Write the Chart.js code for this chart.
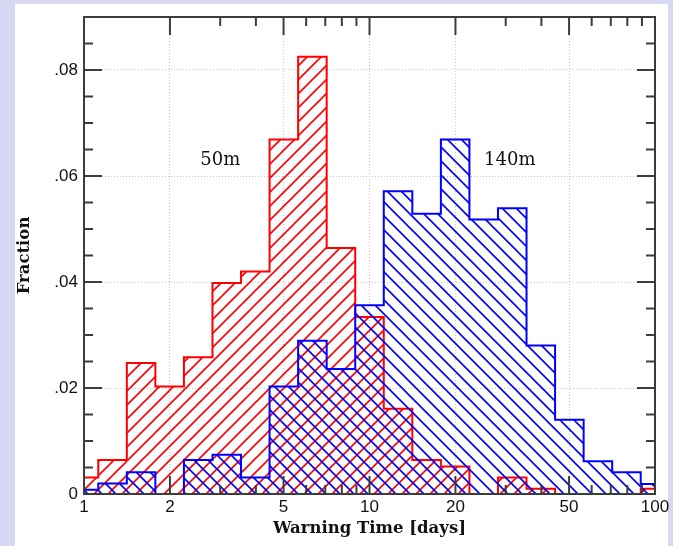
<!DOCTYPE html>
<html><head><meta charset="utf-8">
<script src="https://cdn.jsdelivr.net/npm/chart.js@4/dist/chart.umd.min.js"></script>
<style>
html,body{margin:0;padding:0;background:#d8d8f2;overflow:hidden;}
#panel{position:absolute;left:15px;top:4px;width:653px;height:542px;background:#ffffff;}
#wrap{position:absolute;left:0;top:0;width:673px;height:546px;}
</style></head><body>
<div id="panel"></div>
<div id="wrap"><canvas id="c" width="673" height="546"></canvas></div>
<script>
// Histogram bins: centres in log10(days), 0.1 dex wide
const binCentersLog10 = [0.0,0.1,0.2,0.3,0.4,0.5,0.6,0.7,0.8,0.9,1.0,1.1,1.2,1.3,1.4,1.5,1.6,1.7,1.8,1.9,2.0];
const fraction50m  = [0.0031,0.0064,0.0247,0.0203,0.0258,0.0398,0.0420,0.0669,0.0825,0.0464,0.0334,0.0161,0.0064,0.0052,0.0,0.0031,0.0010,0.0,0.0,0.0,0.0010];
const fraction140m = [0.0008,0.0020,0.0041,0.0,0.0064,0.0074,0.0031,0.0203,0.0289,0.0236,0.0356,0.0571,0.0529,0.0669,0.0518,0.0539,0.0280,0.0140,0.0062,0.0041,0.0019];
const seriesNames = ['50m','140m'];
const xTickLabels = [1,2,5,10,20,50,100];
const xMinorTicks = [3,4,6,7,8,9,30,40,60,70,80,90];
const yTickLabels = [0,0.02,0.04,0.06,0.08];
const yMinorStep = 0.005;

function stepPoints(vals){
  const pts=[];
  for(let i=0;i<binCentersLog10.length;i++){
    const lo=Math.max(0,binCentersLog10[i]-0.05);
    pts.push({x:Math.pow(10,lo), y:vals[i]});
  }
  const last=binCentersLog10.length-1;
  pts.push({x:Math.pow(10,Math.min(2,binCentersLog10[last]+0.05)), y:vals[last]});
  return pts;
}
function hatch(color, dir){
  const s=14; const c=document.createElement('canvas'); c.width=s; c.height=s;
  const g=c.getContext('2d'); g.strokeStyle=color; g.lineWidth=1.6; g.beginPath();
  if(dir>0){ g.moveTo(-s,2*s); g.lineTo(2*s,-s); g.moveTo(-s,s); g.lineTo(s,-s); g.moveTo(0,2*s); g.lineTo(2*s,0); }
  else { g.moveTo(-s,-s); g.lineTo(2*s,2*s); g.moveTo(-s,0); g.lineTo(s,2*s); g.moveTo(0,-s); g.lineTo(2*s,s); }
  g.stroke();
  return g.createPattern(c,'repeat');
}

const frameTicks = {
  id:'frameTicks',
  afterDatasetsDraw(chart){
    const {ctx, chartArea:a, scales:{x,y}} = chart;
    ctx.save();
    ctx.fillStyle='#111'; ctx.font='18px "DejaVu Serif"'; ctx.textAlign='center'; ctx.textBaseline='middle';
    ctx.fillText(seriesNames[0], x.getPixelForValue(3.0), y.getPixelForValue(0.0629));
    ctx.fillText(seriesNames[1], x.getPixelForValue(31), y.getPixelForValue(0.0629));
    ctx.strokeStyle='#3c3c3c'; ctx.lineWidth=2; ctx.lineCap='butt';
    const line=(x1,y1,x2,y2)=>{ctx.beginPath();ctx.moveTo(x1,y1);ctx.lineTo(x2,y2);ctx.stroke();};
    xTickLabels.slice(1,-1).forEach(v=>{const p=x.getPixelForValue(v); line(p,a.bottom,p,a.bottom-18); line(p,a.top,p,a.top+18);});
    xMinorTicks.forEach(v=>{const p=x.getPixelForValue(v); line(p,a.bottom,p,a.bottom-9); line(p,a.top,p,a.top+9);});
    for(let k=1;k*yMinorStep<0.0899;k++){
      const v=k*yMinorStep; const p=y.getPixelForValue(v);
      const major = (k%4===0); const L = major?18:9;
      line(a.left,p,a.left+L,p); line(a.right,p,a.right-L,p);
    }
    ctx.strokeRect(a.left,a.top,a.right-a.left,a.bottom-a.top);
    ctx.restore();
  }
};

const tickFont = {family:'"Liberation Sans", Arial, sans-serif', size:17};
const titleFont = {family:'"DejaVu Serif", serif', size:16.5, weight:'bold'};

new Chart(document.getElementById('c'), {
  type:'line',
  data:{datasets:[
    {label:seriesNames[0], data:stepPoints(fraction50m), stepped:'before', fill:'origin',
     borderColor:'#ff0000', borderWidth:2, backgroundColor:hatch('#ff0000',1), pointRadius:0, order:2},
    {label:seriesNames[1], data:stepPoints(fraction140m), stepped:'before', fill:'origin',
     borderColor:'#0000ff', borderWidth:2, backgroundColor:hatch('#0000ff',-1), pointRadius:0, order:1}
  ]},
  options:{
    responsive:false, animation:false,
    layout:{padding:{left:10,top:17,right:18,bottom:0}},
    plugins:{legend:{display:false}, tooltip:{enabled:false}},
    scales:{
      x:{type:'logarithmic', min:1, max:100,
         afterBuildTicks:s=>{s.ticks=xTickLabels.map(v=>({value:v}));},
         afterFit:s=>{s.height=52;},
         ticks:{callback:v=>String(v), font:tickFont, color:'#111', padding:3, maxRotation:0, autoSkip:false},
         grid:{color:'#c4c4c4', lineWidth:1, drawTicks:false},
         border:{display:false, dash:[1,2]},
         title:{display:true, text:'Warning Time [days]', font:titleFont, color:'#111', padding:{top:0,bottom:7}}},
      y:{min:0, max:0.09,
         afterBuildTicks:s=>{s.ticks=yTickLabels.map(v=>({value:v}));},
         afterFit:s=>{s.width=74;},
         ticks:{callback:v=>v===0?'0':v.toFixed(2).slice(1), font:tickFont, color:'#111', padding:6},
         grid:{color:'#c4c4c4', lineWidth:1, drawTicks:false},
         border:{display:false, dash:[1,2]},
         title:{display:true, text:'Fraction', font:titleFont, color:'#111', padding:{top:5,bottom:0}}}
    }
  },
  plugins:[frameTicks]
});
</script>
</body></html>
